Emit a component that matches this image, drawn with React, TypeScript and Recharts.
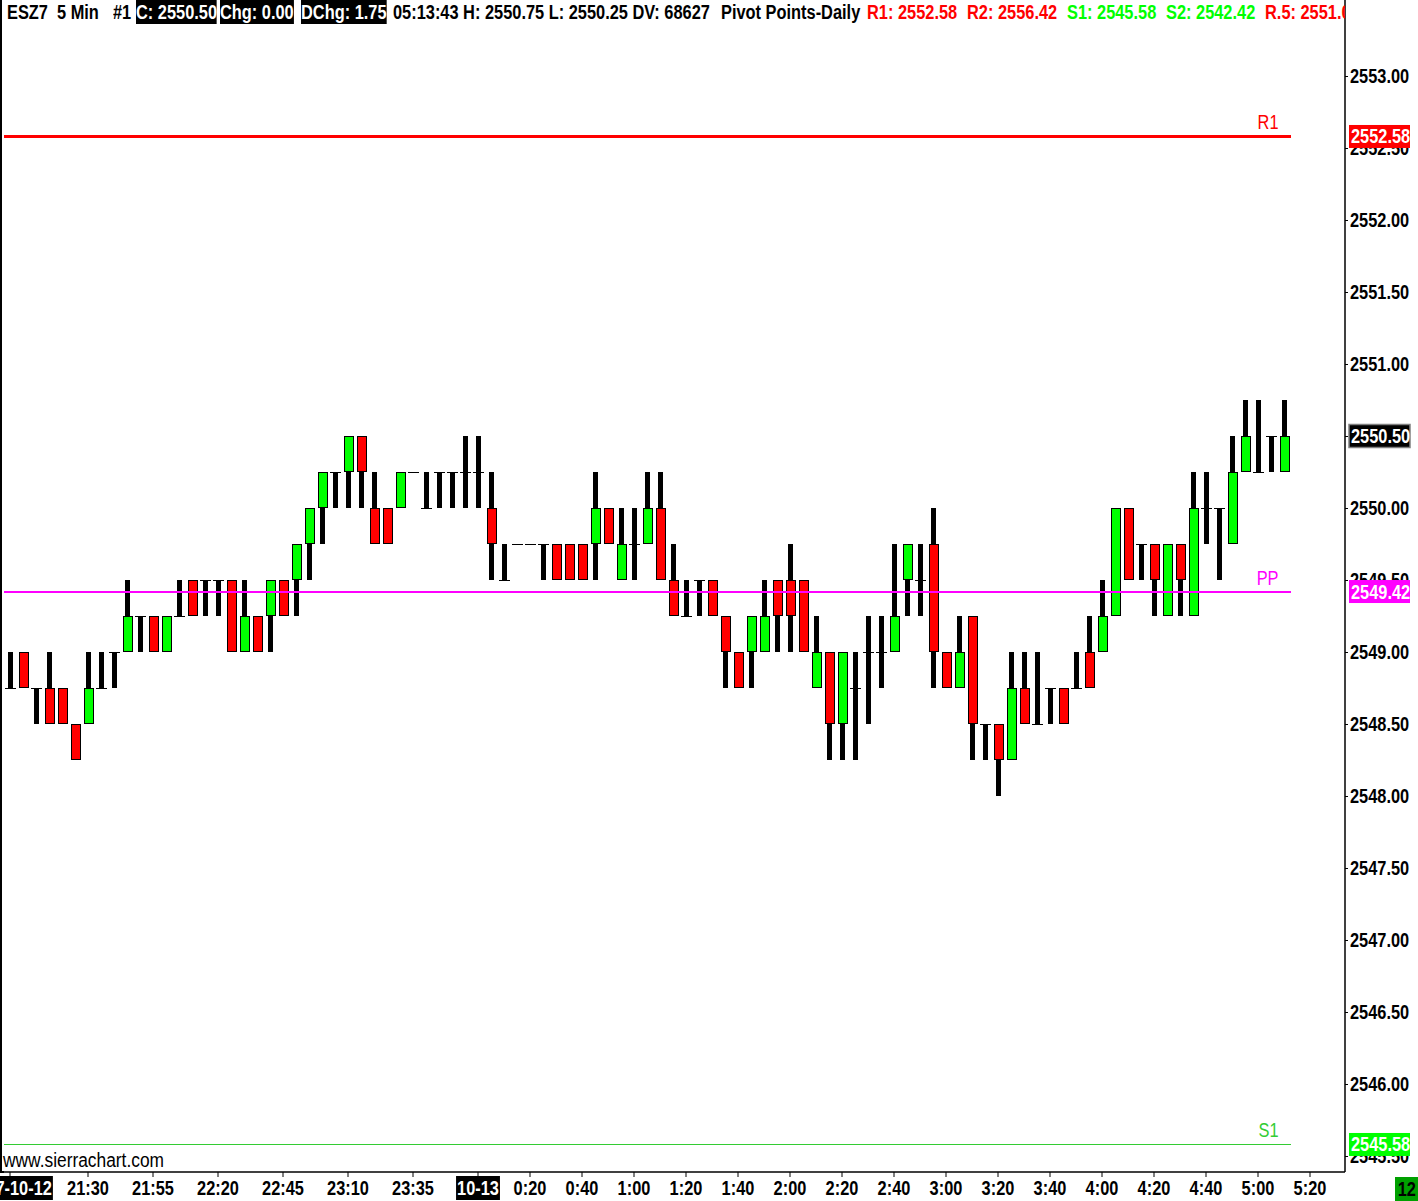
import React from 'react';
import { ComposedChart, Bar, XAxis, YAxis, ReferenceLine } from 'recharts';

// ---- data (5 min bars, ESZ7, starting 2017-10-12 21:00) ----
const OPEN = [
  2548.75, 2549.0, 2548.75, 2548.75, 2548.75, 2548.5, 2548.5, 2548.75, 2549.0, 2549.0,
  2549.25, 2549.25, 2549.0, 2549.25, 2549.5, 2549.5, 2549.5, 2549.5, 2549.0, 2549.25,
  2549.25, 2549.5, 2549.5, 2549.75, 2550.0, 2550.25, 2550.25, 2550.5, 2550.0, 2550.0,
  2550.0, 2550.25, 2550.0, 2550.25, 2550.25, 2550.25, 2550.25, 2550.0, 2549.5, 2549.75,
  2549.75, 2549.75, 2549.75, 2549.75, 2549.75, 2549.75, 2550.0, 2549.5, 2549.75, 2549.75,
  2550.0, 2549.5, 2549.25, 2549.5, 2549.5, 2549.25, 2549.0, 2549.0, 2549.0, 2549.5,
  2549.5, 2549.5, 2548.75, 2549.0, 2548.5, 2548.75, 2549.0, 2549.0, 2549.0, 2549.5,
  2549.5, 2549.75, 2549.0, 2548.75, 2549.25, 2548.5, 2548.5, 2548.25, 2548.75, 2548.5,
  2548.75, 2548.75, 2548.75, 2549.0, 2549.0, 2549.25, 2550.0, 2549.75, 2549.75, 2549.25,
  2549.75, 2549.25, 2550.0, 2550.0, 2549.75, 2550.25, 2550.25, 2550.5, 2550.25,
];
const HIGH = [
  2549.0, 2549.0, 2548.75, 2549.0, 2548.75, 2548.5, 2549.0, 2549.0, 2549.0, 2549.5,
  2549.25, 2549.25, 2549.25, 2549.5, 2549.5, 2549.5, 2549.5, 2549.5, 2549.5, 2549.25,
  2549.5, 2549.5, 2549.75, 2550.0, 2550.25, 2550.25, 2550.5, 2550.5, 2550.25, 2550.0,
  2550.25, 2550.25, 2550.25, 2550.25, 2550.25, 2550.5, 2550.5, 2550.25, 2549.75, 2549.75,
  2549.75, 2549.75, 2549.75, 2549.75, 2549.75, 2550.25, 2550.0, 2550.0, 2550.0, 2550.25,
  2550.25, 2549.75, 2549.5, 2549.5, 2549.5, 2549.25, 2549.0, 2549.25, 2549.5, 2549.5,
  2549.75, 2549.5, 2549.25, 2549.0, 2549.0, 2549.0, 2549.25, 2549.25, 2549.75, 2549.75,
  2549.75, 2550.0, 2549.0, 2549.25, 2549.25, 2548.5, 2548.5, 2549.0, 2549.0, 2549.0,
  2548.75, 2548.75, 2549.0, 2549.25, 2549.5, 2550.0, 2550.0, 2549.75, 2549.75, 2549.75,
  2549.75, 2550.25, 2550.25, 2550.0, 2550.5, 2550.75, 2550.75, 2550.5, 2550.75,
];
const LOW = [
  2548.75, 2548.75, 2548.5, 2548.5, 2548.5, 2548.25, 2548.5, 2548.75, 2548.75, 2549.0,
  2549.0, 2549.0, 2549.0, 2549.25, 2549.25, 2549.25, 2549.25, 2549.0, 2549.0, 2549.0,
  2549.0, 2549.25, 2549.25, 2549.5, 2549.75, 2550.0, 2550.0, 2550.0, 2549.75, 2549.75,
  2550.0, 2550.25, 2550.0, 2550.0, 2550.0, 2550.0, 2550.0, 2549.5, 2549.5, 2549.75,
  2549.75, 2549.5, 2549.5, 2549.5, 2549.5, 2549.5, 2549.75, 2549.5, 2549.5, 2549.75,
  2549.5, 2549.25, 2549.25, 2549.25, 2549.25, 2548.75, 2548.75, 2548.75, 2549.0, 2549.0,
  2549.0, 2549.0, 2548.75, 2548.25, 2548.25, 2548.25, 2548.5, 2548.75, 2549.0, 2549.25,
  2549.25, 2548.75, 2548.75, 2548.75, 2548.25, 2548.25, 2548.0, 2548.25, 2548.5, 2548.5,
  2548.5, 2548.5, 2548.75, 2548.75, 2549.0, 2549.25, 2549.5, 2549.5, 2549.25, 2549.25,
  2549.25, 2549.25, 2549.75, 2549.5, 2549.75, 2550.25, 2550.25, 2550.25, 2550.25,
];
const CLOSE = [
  2548.75, 2548.75, 2548.75, 2548.5, 2548.5, 2548.25, 2548.75, 2548.75, 2549.0, 2549.25,
  2549.25, 2549.0, 2549.25, 2549.25, 2549.25, 2549.5, 2549.5, 2549.0, 2549.25, 2549.0,
  2549.5, 2549.25, 2549.75, 2550.0, 2550.25, 2550.25, 2550.5, 2550.25, 2549.75, 2549.75,
  2550.25, 2550.25, 2550.0, 2550.25, 2550.25, 2550.25, 2550.25, 2549.75, 2549.5, 2549.75,
  2549.75, 2549.75, 2549.5, 2549.5, 2549.5, 2550.0, 2549.75, 2549.75, 2549.75, 2550.0,
  2549.5, 2549.25, 2549.25, 2549.5, 2549.25, 2549.0, 2548.75, 2549.25, 2549.25, 2549.25,
  2549.25, 2549.0, 2549.0, 2548.5, 2549.0, 2548.75, 2549.0, 2549.0, 2549.25, 2549.75,
  2549.5, 2549.0, 2548.75, 2549.0, 2548.5, 2548.5, 2548.25, 2548.75, 2548.5, 2548.5,
  2548.75, 2548.5, 2548.75, 2548.75, 2549.25, 2550.0, 2549.5, 2549.75, 2549.5, 2549.75,
  2549.5, 2550.0, 2550.0, 2550.0, 2550.25, 2550.5, 2550.25, 2550.5, 2550.5,
];
const SLOT_COUNT = 103; // bar slots visible on the time axis

const TICK_IDX = [0, 6, 11, 16, 21, 26, 31, 36, 40, 44, 48, 52, 56, 60, 64, 68, 72, 76, 80, 84, 88, 92, 96, 100];
const TICK_LABELS = [
  '2017-10-12', '21:30', '21:55', '22:20', '22:45', '23:10', '23:35', '10-13', '0:20', '0:40', '1:00',
  '1:20', '1:40', '2:00', '2:20', '2:40', '3:00', '3:20', '3:40', '4:00', '4:20', '4:40', '5:00', '5:20',
];
const DATE_LABELS = ['2017-10-12', '10-13'];
const PRICE_TICKS = [
  2545.5, 2546.0, 2546.5, 2547.0, 2547.5, 2548.0, 2548.5, 2549.0, 2549.5, 2550.0, 2550.5, 2551.0,
  2551.5, 2552.0, 2552.5, 2553.0,
];
const R1 = 2552.58;
const PP = 2549.42;
const S1 = 2545.58;
const LAST_PRICE = 2550.5;
// price markers drawn on the price scale
const MARKER_VALUES = [R1, PP, S1];
const MARKER_COLORS = ['#ff0000', '#ff00ff', '#00ff00'];

const HEADER = [
  { x: 7, text: 'ESZ7', color: '#000', box: false },
  { x: 57, text: '5 Min', color: '#000', box: false },
  { x: 113, text: '#1', color: '#000', box: false },
  { x: 136, text: 'C: 2550.50', color: '#fff', box: true },
  { x: 220, text: 'Chg: 0.00', color: '#fff', box: true },
  { x: 301, text: 'DChg: 1.75', color: '#fff', box: true },
  { x: 393, text: '05:13:43 H: 2550.75 L: 2550.25 DV: 68627', color: '#000', box: false },
  { x: 721, text: 'Pivot Points-Daily', color: '#000', box: false },
  { x: 867, text: 'R1: 2552.58', color: '#ff0000', box: false },
  { x: 967, text: 'R2: 2556.42', color: '#ff0000', box: false },
  { x: 1067, text: 'S1: 2545.58', color: '#00ff00', box: false },
  { x: 1166, text: 'S2: 2542.42', color: '#00ff00', box: false },
  { x: 1265, text: 'R.5: 2551.00', color: '#ff0000', box: false },
];

// ---- layout / style ----
const W = 1418;
const H = 1201;
const Y_MIN = 2552 - 952 / 144;
const Y_MAX = 2552 + 220 / 144;
const HALF_BAND = 6.5;
const FONT = "'Liberation Sans', Arial, Helvetica, sans-serif";
const FS = 19.5;
const NARROW = 0.84;
const UP = '#00ff00';
const DOWN = '#ff0000';

const data = Array.from({ length: SLOT_COUNT }, (_, i) =>
  i < OPEN.length
    ? { idx: i, o: OPEN[i], h: HIGH[i], l: LOW[i], c: CLOSE[i] }
    : { idx: i }
);

let measureCtx: CanvasRenderingContext2D | null = null;
function textWidth(t: string, font: string) {
  if (!measureCtx) measureCtx = document.createElement('canvas').getContext('2d');
  if (!measureCtx) return t.length * 9;
  measureCtx.font = font;
  return measureCtx.measureText(t).width;
}

const Candle = (props: any) => {
  const { x, y, width, height, payload } = props;
  if (!payload || payload.h == null) return null;
  const cx = x + width / 2;
  const top = Math.min(y, y + height);
  const bot = Math.max(y, y + height);
  const span = payload.h - payload.l;
  const py = (v: number) => (span > 0 ? top + ((payload.h - v) / span) * (bot - top) : top);
  const yo = py(payload.o);
  const yc = py(payload.c);
  const els: any[] = [];
  if (bot - top > 0) {
    els.push(<rect key="w" x={cx - 2} y={top} width={5} height={bot - top} fill="#000" shapeRendering="crispEdges" />);
  }
  if (payload.o === payload.c) {
    els.push(<rect key="t" x={cx - 5} y={yo - 0.5} width={10.5} height={1.2} fill="#000" shapeRendering="crispEdges" />);
  } else {
    const b0 = Math.min(yo, yc);
    const b1 = Math.max(yo, yc);
    els.push(
      <rect
        key="b"
        x={cx - 4}
        y={b0 + 0.5}
        width={9}
        height={b1 - b0 - 1}
        fill={payload.c > payload.o ? UP : DOWN}
        stroke="#000"
        strokeWidth={1}
        shapeRendering="crispEdges"
      />
    );
  }
  return <g>{els}</g>;
};

const TimeTick = (props: any) => {
  const { x, y, payload } = props;
  const k = TICK_IDX.indexOf(payload.value);
  if (k < 0) return null;
  const label = TICK_LABELS[k];
  const isDate = DATE_LABELS.includes(label);
  const w = textWidth(label, `bold ${FS}px ${FONT}`) * NARROW;
  return (
    <g transform={`translate(${x},${y})`}>
      {isDate && <rect x={-w / 2 - 1} y={-3} width={w + 2} height={24} fill="#000" />}
      <text
        transform={`scale(${NARROW},1)`}
        x={0}
        y={16}
        textAnchor="middle"
        fontFamily={FONT}
        fontWeight="bold"
        fontSize={FS}
        fill={isDate ? '#fff' : '#000'}
      >
        {label}
      </text>
    </g>
  );
};

const boxLabel = (x: number, y: number, value: number, bg: string, border?: string) => (
  <g>
    <rect
      x={x - 1}
      y={y - 11.5}
      width={61}
      height={23}
      fill={bg}
      stroke={border || 'none'}
      strokeWidth={border ? 1.5 : 0}
    />
    <text
      transform={`translate(${x + 1},${y + 7}) scale(${NARROW},1)`}
      fontFamily={FONT}
      fontWeight="bold"
      fontSize={FS}
      fill="#fff"
    >
      {value.toFixed(2)}
    </text>
  </g>
);

const PriceTick = (props: any) => {
  const { x, y, payload } = props;
  const v = Number(payload.value);
  const m = MARKER_VALUES.indexOf(v);
  if (m >= 0) return boxLabel(x, y, v, MARKER_COLORS[m]);
  return (
    <g>
      <line x1={x - 5} x2={x - 2} y1={y} y2={y} stroke="#000" shapeRendering="crispEdges" />
      {v === LAST_PRICE ? (
        boxLabel(x, y, v, '#000', '#808080')
      ) : (
        <text
          transform={`translate(${x},${y + 7}) scale(${NARROW},1)`}
          x={0}
          y={0}
          fontFamily={FONT}
          fontWeight="bold"
          fontSize={FS}
          fill="#000"
        >
          {v.toFixed(2)}
        </text>
      )}
    </g>
  );
};

function pivotShape(color: string, strokeW: number, label: string) {
  return (p: any) => {
    const x1 = Math.min(p.x1, p.x2) - HALF_BAND;
    const x2 = Math.max(p.x1, p.x2) + HALF_BAND;
    const y = p.y1;
    return (
      <g>
        <line x1={x1} x2={x2} y1={y} y2={y} stroke={color} strokeWidth={strokeW} shapeRendering="crispEdges" />
        <text
          transform={`translate(${x2 - 12},${y - 7}) scale(${NARROW},1)`}
          textAnchor="end"
          fontFamily={FONT}
          fontSize={FS}
          fill={color}
        >
          {label}
        </text>
      </g>
    );
  };
}

export default function App() {
  const lastIdx = OPEN.length - 1;
  return (
    <div style={{ position: 'absolute', left: 0, top: 0, width: W, height: H, background: '#fff', overflow: 'hidden' }}>
      <ComposedChart width={W} height={H} data={data} margin={{ top: 0, right: 0, bottom: 0, left: 3 }}>
        <XAxis
          dataKey="idx"
          type="category"
          ticks={TICK_IDX}
          interval={0}
          height={29}
          padding={{ left: 0.5, right: 2.5 }}
          tick={<TimeTick />}
          tickSize={5}
          tickMargin={2}
          axisLine={{ stroke: '#000', strokeWidth: 1.5 }}
          tickLine={{ stroke: '#000' }}
        />
        <YAxis
          orientation="right"
          type="number"
          domain={[Y_MIN, Y_MAX]}
          allowDataOverflow
          ticks={[...PRICE_TICKS, ...MARKER_VALUES]}
          interval={0}
          width={73}
          tick={<PriceTick />}
          tickSize={3}
          tickMargin={2}
          axisLine={{ stroke: '#000', strokeWidth: 1.5 }}
          tickLine={false}
        />
        <Bar
          dataKey={(d: any) => (d.h == null ? null : [d.l, d.h])}
          shape={<Candle />}
          barSize={9}
          isAnimationActive={false}
        />
        <ReferenceLine
          segment={[{ x: 0, y: S1 }, { x: lastIdx, y: S1 }]}
          stroke="#33cc33"
          ifOverflow="visible"
          shape={pivotShape('#33cc33', 1.5, 'S1')}
        />
        <ReferenceLine
          segment={[{ x: 0, y: PP }, { x: lastIdx, y: PP }]}
          stroke="#ff00ff"
          ifOverflow="visible"
          shape={pivotShape('#ff00ff', 2, 'PP')}
        />
        <ReferenceLine
          segment={[{ x: 0, y: R1 }, { x: lastIdx, y: R1 }]}
          stroke="#ff0000"
          ifOverflow="visible"
          shape={pivotShape('#ff0000', 3.5, 'R1')}
        />
      </ComposedChart>

      {/* left frame line */}
      <div style={{ position: 'absolute', left: 0, top: 0, width: 2, height: 1173, background: '#000' }} />
      <div style={{ position: 'absolute', left: 0, top: 1171, width: 4, height: 1.5, background: '#000' }} />

      {/* header */}
      <div style={{ position: 'absolute', left: 0, top: 0, width: 1345, height: 26, overflow: 'hidden' }}>
        {HEADER.map((h, i) => (
          <div
            key={i}
            style={{
              position: 'absolute',
              left: h.x,
              top: 0,
              height: 24,
              lineHeight: '24px',
              whiteSpace: 'pre',
              fontFamily: FONT,
              fontWeight: 'bold',
              fontSize: FS,
              color: h.color,
              background: h.box ? '#000' : 'transparent',
              padding: 0,
              transform: `scaleX(${NARROW})`,
              transformOrigin: 'left top',
            }}
          >
            {h.text}
          </div>
        ))}
      </div>

      {/* watermark */}
      <div
        style={{
          position: 'absolute',
          left: 3,
          top: 1149,
          lineHeight: '22px',
          fontFamily: FONT,
          fontSize: FS,
          color: '#000',
          whiteSpace: 'pre',
          transform: 'scaleX(0.89)',
          transformOrigin: 'left top',
        }}
      >
        www.sierrachart.com
      </div>

      {/* bottom-right counter */}
      <div
        style={{
          position: 'absolute',
          left: 1395,
          top: 1177,
          width: 23,
          height: 24,
          background: '#00a000',
          color: '#000',
          fontFamily: FONT,
          fontWeight: 'bold',
          fontSize: FS,
          lineHeight: '24px',
          textAlign: 'center',
          overflow: 'hidden',
        }}
      >
        <span style={{ display: 'inline-block', transform: `scaleX(${NARROW})` }}>12</span>
      </div>
    </div>
  );
}
